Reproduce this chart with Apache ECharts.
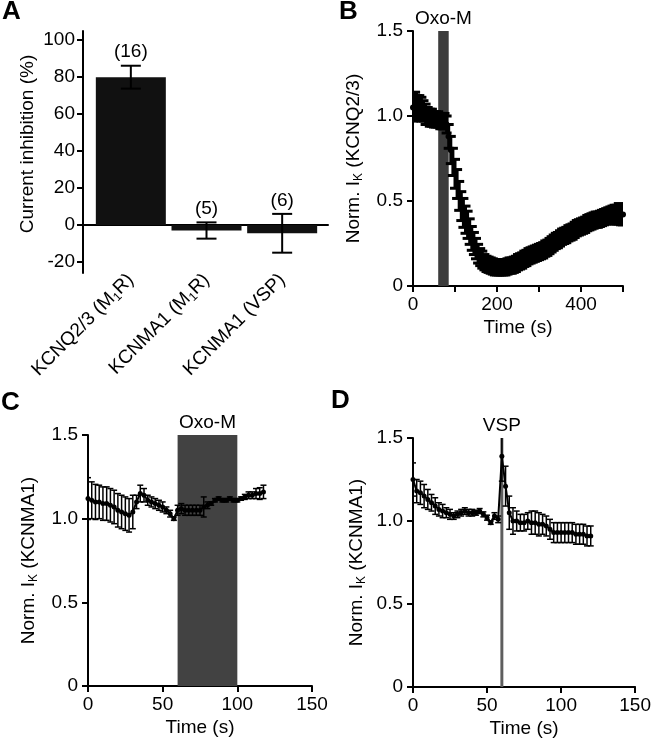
<!DOCTYPE html>
<html>
<head>
<meta charset="utf-8">
<script src="https://cdn.jsdelivr.net/npm/echarts@6/dist/echarts.min.js"></script>
<style>
html, body { margin: 0; padding: 0; background: #fff; }
#fig { width: 654px; height: 743px; }
</style>
</head>
<body>
<div id="fig"></div>
<script>
/* A: 抑制率柱状图 */
var barNames = ['KCNQ2/3 (M{sub|1}R)', 'KCNMA1 (M{sub|1}R)', 'KCNMA1 (VSP)'];
var barMeans = [80, -3, -4.5];
var barSem = [6.2, 4.4, 10.5];
var barN = ['(16)', '(5)', '(6)'];
var yTicksA = [-20, 0, 20, 40, 60, 80, 100];

/* B: KCNQ2/3 time course, every 5 s */
var meanB = [1.05, 1.06, 1.05, 1.05, 1.04, 1.03, 1.01, 1.00, 0.99, 0.99,
  0.98, 0.98, 0.98, 0.97, 0.97, 0.97, 0.95, 0.88, 0.80, 0.73,
  0.66, 0.60, 0.53, 0.47, 0.43, 0.39, 0.36, 0.32, 0.28, 0.25,
  0.22, 0.19, 0.17, 0.155, 0.14, 0.13, 0.125, 0.12, 0.115, 0.11,
  0.11, 0.11, 0.11, 0.11, 0.11, 0.115, 0.12, 0.12, 0.125, 0.13,
  0.14, 0.145, 0.15, 0.16, 0.165, 0.175, 0.18, 0.185, 0.19, 0.195,
  0.20, 0.205, 0.21, 0.22, 0.225, 0.235, 0.245, 0.255, 0.265, 0.27,
  0.28, 0.29, 0.295, 0.30, 0.31, 0.315, 0.32, 0.33, 0.34, 0.345,
  0.35, 0.355, 0.36, 0.37, 0.375, 0.38, 0.385, 0.39, 0.39, 0.395,
  0.40, 0.405, 0.41, 0.415, 0.415, 0.42, 0.42, 0.42, 0.425, 0.42, 0.42];
var semB = [0.08, 0.08, 0.07, 0.07, 0.07, 0.06, 0.06,
  0.05, 0.05, 0.05, 0.045, 0.045, 0.045, 0.045, 0.045, 0.045, 0.05,
  0.07, 0.08, 0.08, 0.085, 0.085, 0.085, 0.085, 0.085, 0.08, 0.08, 0.075, 0.07, 0.065, 0.06,
  0.055, 0.05, 0.05, 0.045, 0.045, 0.045, 0.045, 0.045, 0.045, 0.045, 0.045, 0.045, 0.045, 0.045, 0.045, 0.045, 0.045, 0.045,
  0.045, 0.045, 0.045, 0.045, 0.045, 0.045, 0.045, 0.045, 0.045, 0.045, 0.045, 0.045, 0.045,
  0.045, 0.045, 0.045, 0.045, 0.045, 0.045, 0.045, 0.045, 0.045, 0.045, 0.045, 0.045, 0.045,
  0.045, 0.045, 0.045, 0.045, 0.045, 0.045, 0.045, 0.045, 0.045, 0.045, 0.045, 0.045, 0.045,
  0.045, 0.045, 0.045, 0.045, 0.045, 0.045, 0.05, 0.05, 0.055, 0.055, 0.06, 0.06, 0.06];
var stepB = 5;
var oxoB = [60, 85];

/* C: KCNMA1 + Oxo-M, every 2.5 s */
var meanC = [1.12, 1.11, 1.10, 1.10, 1.09, 1.09, 1.08, 1.07, 1.05, 1.04, 1.03, 1.02,
  1.04, 1.10, 1.15, 1.14, 1.11, 1.10, 1.09, 1.08, 1.07, 1.05, 1.03, 1.00,
  1.05, 1.06, 1.05, 1.05, 1.05, 1.05, 1.05, 1.07,
  1.08, 1.09, 1.11, 1.12, 1.11, 1.11, 1.12, 1.11, 1.11, 1.12, 1.13, 1.14, 1.14, 1.15, 1.15, 1.16];
var semC = [0.125, 0.11, 0.105, 0.10, 0.10, 0.10, 0.10, 0.10, 0.10, 0.10, 0.10, 0.10, 0.10,
  0.04, 0.05, 0.04, 0.03, 0.03, 0.03, 0.03, 0.03, 0.02, 0.02, 0.01,
  0.03, 0.03, 0.03, 0.03, 0.03, 0.03, 0.03, 0.06,
  0.02, 0.01, 0.01, 0.01, 0.01, 0.01, 0.01, 0.01, 0.01, 0.01, 0.015, 0.02, 0.02, 0.03, 0.035, 0.04];
var stepC = 2.5;
var oxoC = [60, 100];

/* D: KCNMA1 + VSP, every 2.5 s */
var meanD = [1.25, 1.18, 1.17, 1.15, 1.13, 1.11, 1.09, 1.07, 1.06, 1.05, 1.04, 1.03,
  1.04, 1.05, 1.06, 1.05, 1.05, 1.05, 1.06, 1.04, 1.02, 0.99, 1.03, 1.01,
  1.39, 1.21, 1.05, 1.00, 1.00, 0.99, 0.99, 1.00, 0.99, 0.99, 0.98, 0.98,
  0.97, 0.95, 0.93, 0.93, 0.93, 0.93, 0.93, 0.93, 0.92, 0.92, 0.92, 0.91, 0.91];
var semD = [0.10, 0.07, 0.07, 0.07, 0.06, 0.05, 0.05, 0.04, 0.04, 0.03, 0.03, 0.02,
  0.02, 0.02, 0.02, 0.02, 0.02, 0.015, 0.015, 0.015, 0.015, 0.01, 0.02, 0.02,
  0.15, 0.12, 0.10, 0.08, 0.06, 0.05, 0.05, 0.05, 0.07, 0.07, 0.07, 0.06,
  0.06, 0.06, 0.06, 0.06, 0.06, 0.06, 0.06, 0.06, 0.06, 0.06, 0.06, 0.06, 0.06];
var stepD = 2.5;
var vspD = [59, 61];

var FONT = 'Liberation Sans, Arial, sans-serif';
var FS = 19;

function toPoints(mean, step) {
	return mean.map(function (v, i) { return [i * step, v]; });
}
function toErr(mean, sem, step) {
	return mean.map(function (v, i) { return [i * step, v - sem[i], v + sem[i]]; });
}

// 误差线
function errRender(cap, lw) {
	return function (params, api) {
		var x = api.value(0);
		var p1 = api.coord([x, api.value(2)]);
		var p2 = api.coord([x, api.value(1)]);
		var s = { stroke: '#000', lineWidth: lw };
		return {
			type: 'group',
			children: [
				{ type: 'line', shape: { x1: p1[0], y1: p1[1], x2: p2[0], y2: p2[1] }, style: s },
				{ type: 'line', shape: { x1: p1[0] - cap, y1: p1[1], x2: p1[0] + cap, y2: p1[1] }, style: s },
				{ type: 'line', shape: { x1: p2[0] - cap, y1: p2[1], x2: p2[0] + cap, y2: p2[1] }, style: s }
			]
		};
	};
}

var axLine = { show: true, onZero: false, lineStyle: { color: '#000', width: 2 } };
var axTick = { show: true, length: 6, lineStyle: { color: '#000', width: 2 } };
var subRich = { sub: { fontSize: 12, padding: [10, 0, 0, 0] } };

function numFmt(v) { return v === 0 ? '0' : v.toFixed(1); }

function timeAxis(idx, max, interval, fmt) {
	return {
		type: 'value', gridIndex: idx, min: 0, max: max, interval: interval,
		axisLine: axLine, axisTick: axTick, splitLine: { show: false },
		axisLabel: { color: '#000', fontSize: FS, margin: 9, formatter: fmt },
		name: 'Time (s)', nameLocation: 'middle', nameGap: 32,
		nameTextStyle: { color: '#000', fontSize: FS }
	};
}
function normAxis(idx, name, gap) {
	return {
		type: 'value', gridIndex: idx, min: 0, max: 1.5, interval: 0.5,
		axisLine: axLine, axisTick: axTick, splitLine: { show: false },
		axisLabel: { color: '#000', fontSize: FS, margin: 10, formatter: numFmt },
		name: name, nameLocation: 'middle', nameGap: gap,
		nameTextStyle: { color: '#000', fontSize: FS, rich: subRich }
	};
}
function traceSeries(idx, mean, step, sym, lw, area, areaColor, areaName) {
	return {
		type: 'line', xAxisIndex: idx, yAxisIndex: idx, data: toPoints(mean, step),
		symbol: 'circle', symbolSize: sym, showSymbol: true, z: 3,
		lineStyle: { color: '#000', width: lw }, itemStyle: { color: '#000' },
		markArea: {
			silent: true,
			itemStyle: { color: areaColor },
			label: { show: true, position: 'top', color: '#000', fontSize: FS, distance: 3 },
			data: [[{ name: areaName, xAxis: area[0], yAxis: 0 }, { xAxis: area[1], yAxis: 1.5 }]]
		}
	};
}
function errSeries(idx, mean, sem, step, cap, lw) {
	return {
		type: 'custom', xAxisIndex: idx, yAxisIndex: idx, clip: true, z: 3,
		renderItem: errRender(cap, lw), encode: { x: 0, y: [1, 2] },
		data: toErr(mean, sem, step)
	};
}

var myChart = echarts.init(document.getElementById('fig'));

var letter = function (t, l, tp) {
	return { text: t, left: l, top: tp, padding: 0, textStyle: { fontSize: 26, fontWeight: 'bold', color: '#000', fontFamily: FONT } };
};

option = {
	animation: false,
	backgroundColor: '#fff',
	textStyle: { fontFamily: FONT },
	title: [letter('A', 2, -1), letter('B', 339, -1), letter('C', 1, 390), letter('D', 331, 388)],
	grid: [
		{ left: 83, top: 31, width: 245, height: 242 },
		{ left: 93, top: 31, width: 227, height: 242 },
		{ left: 413, top: 31, width: 210, height: 255 },
		{ left: 88, top: 435, width: 224, height: 251 },
		{ left: 413, top: 438, width: 224, height: 249 }
	],
	xAxis: [
		{ type: 'value', gridIndex: 0, min: 0, max: 1,
			axisLine: { show: true, onZero: true, lineStyle: { color: '#000', width: 2 } },
			axisTick: { show: false }, axisLabel: { show: false }, splitLine: { show: false } },
		{ type: 'category', gridIndex: 1, data: barNames, position: 'bottom',
			axisLine: { show: false, onZero: false }, axisTick: { show: false },
			axisLabel: { interval: 0, rotate: 45, color: '#000', fontSize: FS, margin: 4, rich: subRich } },
		timeAxis(2, 500, 100, function (v) { return v % 200 === 0 ? String(v) : ''; }),
		timeAxis(3, 150, 50),
		timeAxis(4, 150, 50)
	],
	yAxis: [
		{ type: 'value', gridIndex: 0, min: -26, max: 105,
			axisLine: axLine, splitLine: { show: false },
			axisTick: { show: true, length: 6, customValues: yTicksA, lineStyle: { color: '#000', width: 2 } },
			axisLabel: { color: '#000', fontSize: FS, margin: 8, customValues: yTicksA },
			name: 'Current inhibition (%)', nameLocation: 'middle', nameGap: 46,
			nameTextStyle: { color: '#000', fontSize: FS, padding: [0, 0, 0, 16] } },
		{ type: 'value', gridIndex: 1, min: -26, max: 105, show: false },
		normAxis(2, 'Norm. I{sub|K} (KCNQ2/3)', 48),
		normAxis(3, 'Norm. I{sub|K} (KCNMA1)', 48),
		normAxis(4, 'Norm. I{sub|K} (KCNMA1)', 45)
	],
	series: [
		{ type: 'bar', xAxisIndex: 1, yAxisIndex: 1, data: barMeans, barWidth: 70,
			itemStyle: { color: '#111' } },
		{ type: 'custom', xAxisIndex: 1, yAxisIndex: 1, z: 3, renderItem: errRender(10, 2),
			encode: { x: 0, y: [1, 2] },
			data: barMeans.map(function (v, i) { return [i, v - barSem[i], v + barSem[i]]; }) },
		{ type: 'scatter', xAxisIndex: 1, yAxisIndex: 1, symbolSize: 0,
			itemStyle: { opacity: 1 },
			data: barMeans.map(function (v, i) { return [i, v + barSem[i]]; }),
			label: { show: true, position: 'top', distance: 4, color: '#000', opacity: 1, fontSize: FS,
				formatter: function (p) { return barN[p.dataIndex]; } } },

		traceSeries(2, meanB, stepB, 6, 2.5, oxoB, '#3c3c3c', 'Oxo-M'),
		errSeries(2, meanB, semB, stepB, 5, 3),

		traceSeries(3, meanC, stepC, 5, 2, oxoC, '#424242', 'Oxo-M'),
		errSeries(3, meanC, semC, stepC, 3, 1.5),

		traceSeries(4, meanD, stepD, 5, 2, vspD, '#5e5e5e', 'VSP'),
		errSeries(4, meanD, semD, stepD, 3, 1.5)
	]
};

myChart.setOption(option);
</script>
</body>
</html>
